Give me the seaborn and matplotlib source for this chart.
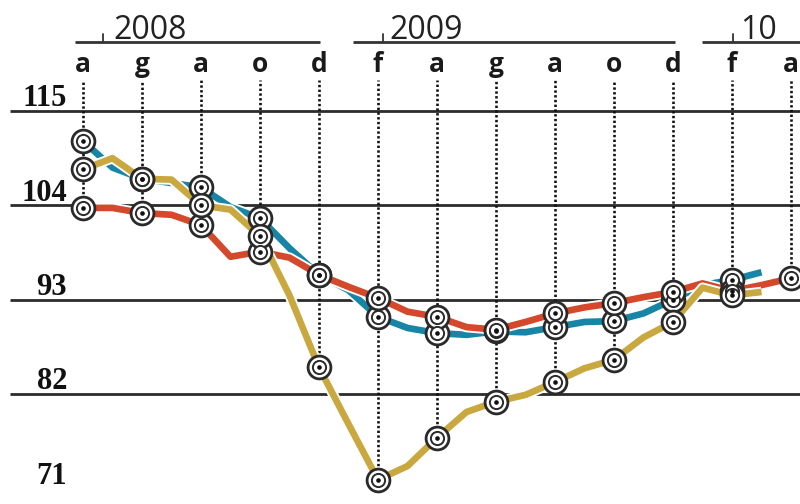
import numpy as np
import pandas as pd
import seaborn as sns
import matplotlib
matplotlib.use("Agg")
import matplotlib.pyplot as plt
import matplotlib.transforms as mtrans
import matplotlib.patheffects as pe

# ---------------- data (monthly, April 2008 .. April 2010) ----------------
month_index = list(range(25))
red_values = [103.7, 103.7, 103.1, 102.9, 101.7, 98.0, 98.6, 97.9, 95.9, 94.5,
              93.2, 91.6, 91.0, 89.8, 89.5, 90.4, 91.4, 92.1, 92.6, 93.3,
              93.9, 94.9, 94.0, 94.7, 95.5]
blue_values = [111.5, 108.4, 107.1, 106.6, 106.1, 103.8, 102.5, 99.0, 95.9, 94.1,
               91.0, 89.7, 89.1, 88.9, 89.3, 89.2, 89.8, 90.4, 90.5, 91.4,
               93.0, 94.7, 95.3, 96.2, None]
yellow_values = [108.2, 109.5, 107.1, 107.0, 104.0, 103.5, 100.4, 93.5, 85.1, 78.5,
                 72.0, 73.6, 76.9, 79.9, 81.1, 81.9, 83.4, 85.0, 86.0, 88.6,
                 90.4, 94.4, 93.5, 93.9, None]
month_labels = ["a", "g", "a", "o", "d", "f", "a", "g", "a", "o", "d", "f", "a"]
label_months = list(range(0, 25, 2))
year_labels = ["2008", "2009", "10"]
y_ticks = [115, 104, 93, 82, 71]
grid_values = [115, 104, 93, 82]

series_colors = {"rosso": "#d4482b", "blu": "#1786a6", "giallo": "#c9a83f"}

rows = []
for name, vals in (("blu", blue_values), ("rosso", red_values), ("giallo", yellow_values)):
    for i, v in zip(month_index, vals):
        if v is not None:
            rows.append({"idx": i, "value": v, "serie": name})
df = pd.DataFrame(rows)
dm = df[df["idx"].isin(label_months)]

# ---------------- figure ----------------
sns.set_theme(style="white")
plt.rcParams["font.family"] = ["DejaVu Sans"]

W, H = 800, 504
fig = plt.figure(figsize=(W / 100, H / 100), dpi=100)
ax = fig.add_axes([0, 0, 1, 1])
ax.set_axis_off()

px_per_month = 29.5
x0_px = 83.0
px_per_unit = 8.576
y115_px = 111.0
ax.set_xlim((0 - x0_px) / px_per_month, (W - x0_px) / px_per_month)
ax.set_ylim(115 - (H - y115_px) / px_per_unit, 115 + y115_px / px_per_unit)

def px2x(px):
    return (px - x0_px) / px_per_month

def py2frac(py):
    return 1 - py / H

# horizontal grid lines
for v in grid_values:
    ax.axhline(v, xmin=10 / W, xmax=1, color="#2b2b2b", lw=2.0, zorder=1)

# y labels
tr_ay = mtrans.blended_transform_factory(ax.transAxes, ax.transData)
for v in y_ticks:
    ax.text(67 / W, v + 0.55, str(v), transform=tr_ay, ha="right", va="baseline",
            fontfamily=["Liberation Serif"], fontweight="bold", fontsize=22,
            color="#111111")

# dotted verticals down to the lowest marker
top_val = 115 + (y115_px - 80) / px_per_unit
lows = dm.groupby("idx")["value"].min()
ax.vlines(lows.index, lows.values, top_val, colors="#111111",
          linestyles=(0, (0.9, 0.9)), lw=1.9, zorder=2)

# colored lines
sns.lineplot(data=df, x="idx", y="value", hue="serie", palette=series_colors,
             hue_order=["blu", "rosso", "giallo"], lw=4.8, legend=False,
             ax=ax, zorder=3)
for ln in ax.lines:
    ln.set_solid_capstyle("butt")
    ln.set_path_effects([pe.Stroke(linewidth=7.5, foreground="white"), pe.Normal()])

# bullseye markers
sns.scatterplot(data=dm, x="idx", y="value", s=270, color="white",
                edgecolor="#2a2a2a", linewidth=2.0, ax=ax, zorder=5, legend=False)
sns.scatterplot(data=dm, x="idx", y="value", s=90, color="white",
                edgecolor="#2a2a2a", linewidth=1.4, ax=ax, zorder=6, legend=False)
sns.scatterplot(data=dm, x="idx", y="value", s=11, color="#111111",
                edgecolor="#111111", linewidth=0, ax=ax, zorder=7, legend=False)

# month labels
tr_xa = mtrans.blended_transform_factory(ax.transData, ax.transAxes)
for i, lab in zip(label_months, month_labels):
    ax.text(i, py2frac(72), lab, transform=tr_xa, ha="center", va="baseline",
            fontfamily=["Open Sans"], fontweight="bold", fontsize=19,
            color="#1a1a1a")

# year brackets
brackets = [(75, 320, 103, 113), (353, 675, 383, 389), (702, 805, 733, 740)]
for (xa, xb, xt, xl), lab in zip(brackets, year_labels):
    ax.plot([px2x(xa), px2x(xb)], [py2frac(42)] * 2, transform=tr_xa,
            color="#333333", lw=2.0, solid_capstyle="butt", clip_on=False)
    ax.plot([px2x(xt)] * 2, [py2frac(42), py2frac(34)], transform=tr_xa,
            color="#333333", lw=1.3)
    ax.text(px2x(xl), py2frac(39), lab, transform=tr_xa, ha="left", va="baseline",
            fontfamily=["Open Sans"], fontsize=23, color="#222222")

fig.savefig("out.png", dpi=100)
